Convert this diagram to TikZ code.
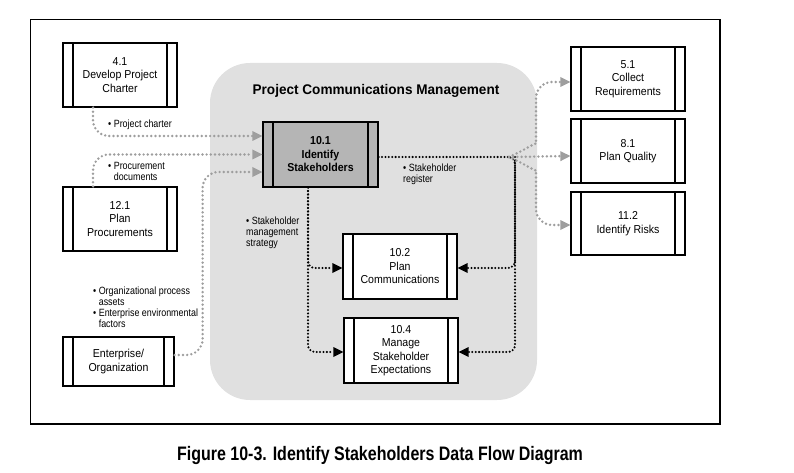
\documentclass[tikz,border=0pt]{standalone}
\usepackage{fontspec}
\setmainfont{Liberation Sans}
\newfontfamily\boxfont[FakeStretch=0.92]{Liberation Sans}
\newfontfamily\lblfont[FakeStretch=0.85]{Liberation Sans}
\newfontfamily\capfont[FakeStretch=0.82]{Liberation Sans}
\newfontfamily\ttlfont[FakeStretch=0.97]{Liberation Sans}
\usetikzlibrary{arrows.meta}

\definecolor{regiongray}{gray}{0.88}
\definecolor{idgray}{gray}{0.71}
\definecolor{flowgray}{gray}{0.62}

\newcommand{\lbul}{\textbullet\ }
\newcommand{\lind}{\hphantom{\textbullet\ }}

\begin{document}
\begin{tikzpicture}[x=1pt,y=-1pt,
  proc node/.style={draw,line width=1.2pt,fill=white,minimum width=114pt,minimum height=64pt,
    align=center,inner sep=1pt,font=\boxfont\fontsize{11.5}{13.5}\selectfont,
    path picture={\draw[line width=1.2pt]
      ([xshift=10pt]path picture bounding box.north west) -- ([xshift=10pt]path picture bounding box.south west)
      ([xshift=-10pt]path picture bounding box.north east) -- ([xshift=-10pt]path picture bounding box.south east);}},
  label text/.style={align=left,inner sep=0pt,anchor=west,font=\lblfont\fontsize{10.5}{11}\selectfont},
  gray flow/.style={draw=flowgray,line width=2.7pt,line cap=round,dash pattern=on 0pt off 4.2pt,
    rounded corners=16pt,-{Triangle[length=10pt,width=10pt,line width=0pt]}},
  black flow/.style={draw=black,line width=2.3pt,line cap=round,dash pattern=on 0pt off 3.4pt,
    rounded corners=7pt,-{Triangle[length=10pt,width=10pt,line width=0pt]}}]

  \useasboundingbox (0,0) rectangle (794,473);
  \draw[line width=1.5pt] (30.5,19.5) rectangle (720,424);
  \fill[regiongray,rounded corners=40pt] (210,63) rectangle (537,400);

  \node[font=\ttlfont\bfseries\fontsize{14}{16}\selectfont,anchor=base] (title) at (376,95) {Project Communications Management};

  \node[proc node] (41) at (120,75) {4.1\\Develop Project\\Charter};
  \node[proc node] (121) at (120,219) {12.1\\Plan\\Procurements};
  \node[proc node,minimum width=111pt,minimum height=49pt] (ent) at (118.5,361.5) {Enterprise/\\Organization};

  \node[proc node,fill=idgray,minimum width=115pt,minimum height=65pt,
    font=\boxfont\bfseries\fontsize{11.5}{13.5}\selectfont] (101) at (320.5,154.5) {10.1\\Identify\\Stakeholders};
  \node[proc node,minimum height=65pt] (102) at (400,266.5) {10.2\\Plan\\Communications};
  \node[proc node,minimum height=65pt] (104) at (401,350.5) {10.4\\Manage\\Stakeholder\\Expectations};

  \node[proc node] (51) at (628,79) {5.1\\Collect\\Requirements};
  \node[proc node] (81) at (628,151) {8.1\\Plan Quality};
  \node[proc node,minimum height=63pt] (112) at (628,223.5) {11.2\\Identify Risks};

  \coordinate (hub) at (509,157);
  \coordinate (rdrop) at (515,157);

  % inputs
  \draw[gray flow] ([xshift=-27pt]41.south) |- ([yshift=18.5pt]101.west);
  \draw[gray flow] ([xshift=-27pt]121.north) |- (101.west);
  \draw[gray flow] ([yshift=6.5pt]ent.east) -- ++(28,0) |- ([yshift=-17.5pt]101.west);

  % outputs
  \draw[black flow,-] ([yshift=-2.5pt]101.east) -- (hub);
  \draw[black flow] (hub) -- (rdrop) |- ([yshift=-1.5pt]102.east);
  \draw[black flow] (rdrop) |- ([yshift=-1.5pt]104.east);
  \draw[black flow] ([xshift=-12.5pt]101.south) |- ([yshift=-1.5pt]102.west);
  \draw[black flow] ([xshift=-12.5pt]101.south) |- ([yshift=-1.5pt]104.west);

  \draw[gray flow] (hub) .. controls (525,150) and (536,142) .. (536,128) |- ([yshift=-3pt]51.west);
  \draw[gray flow] (hub) -- ([yshift=-5pt]81.west);
  \draw[gray flow] (hub) .. controls (525,164) and (536,172) .. (536,186) |- ([yshift=-1.5pt]112.west);

  \node[label text] (pc) at (108,124.5) {\lbul Project charter};
  \node[label text] (pd) at (108,171) {\lbul Procurement\\\lind documents};
  \node[label text] (sms) at (246,233) {\lbul Stakeholder\\management\\strategy};
  \node[label text] (sr) at (403,174) {\lbul Stakeholder\\register};
  \node[label text] (opa) at (93,307.5) {\lbul Organizational process\\\lind assets\\\lbul Enterprise environmental\\\lind factors};

  \node[font=\capfont\bfseries\fontsize{19.5}{22}\selectfont,anchor=base] (cap) at (380,460) {Figure 10-3. Identify Stakeholders Data Flow Diagram};
\end{tikzpicture}
\end{document}
